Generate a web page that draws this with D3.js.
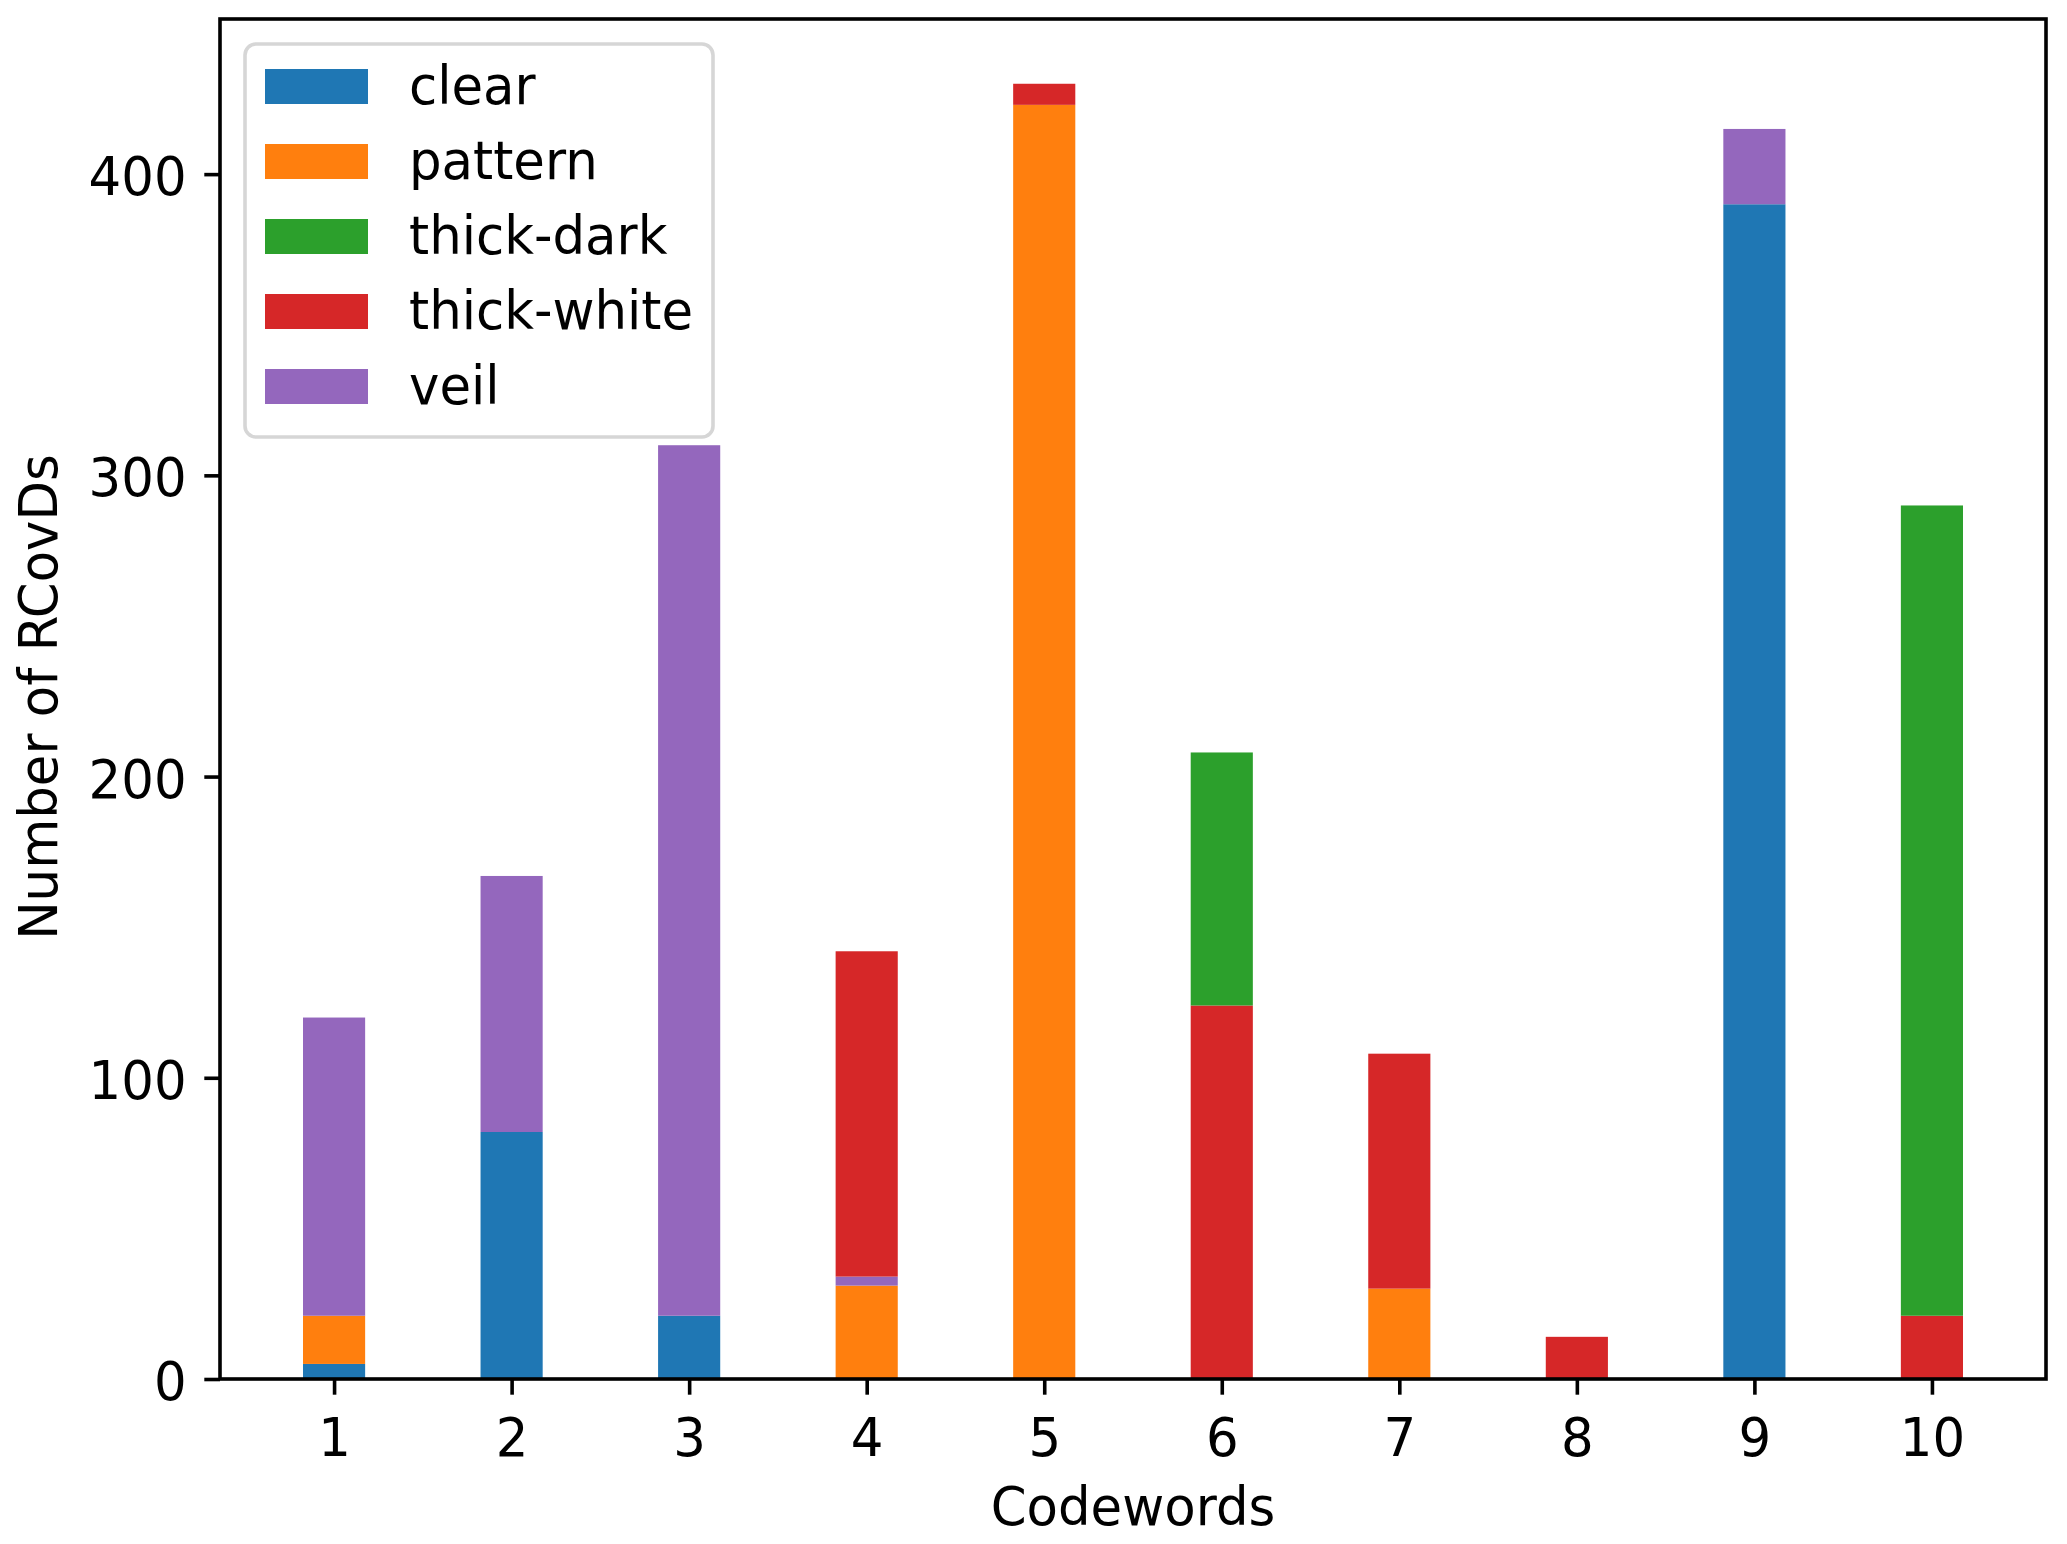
<!DOCTYPE html>
<html>
<head>
<meta charset="utf-8">
<script src="https://cdn.jsdelivr.net/npm/d3@7"></script>
<style>
  body { margin: 0; background: #fff; }
  svg { display: block; }
  text { font-family: "DejaVu Sans", sans-serif; fill: #000; }
</style>
</head>
<body>
<svg id="chart" width="2067" height="1544"></svg>
<script>
// data
const codewords = [1, 2, 3, 4, 5, 6, 7, 8, 9, 10]
const seriesNames = ['clear', 'pattern', 'thick-dark', 'thick-white', 'veil']
const seriesColors = ['#1f77b4', '#ff7f0e', '#2ca02c', '#d62728', '#9467bd']
const clear      = [5, 82, 21, 0, 0, 0, 0, 0, 390, 0]
const pattern    = [16, 0, 0, 31, 423, 0, 30, 0, 0, 0]
const thickDark  = [0, 0, 0, 0, 0, 84, 0, 0, 0, 269]
const thickWhite = [0, 0, 0, 108, 7, 124, 78, 14, 0, 21]
const veil       = [99, 85, 289, 3, 0, 0, 0, 0, 25, 0]
// bottom-to-top order of the segments inside each bar
const stackOrder = ['clear', 'pattern', 'veil', 'thick-white', 'thick-dark']
const yTicks = [0, 100, 200, 300, 400]

const seriesValues = {
  'clear': clear,
  'pattern': pattern,
  'thick-dark': thickDark,
  'thick-white': thickWhite,
  'veil': veil
}

const plotLeft = 220, plotRight = 2046, plotTop = 19, plotBottom = 1379
const fontPx = 53.8
const tickLen = 15.7
const lw = 3.6
const barWidth = 0.35
const squeeze = 0.955 // the reference text is a bit narrower than DejaVu at this size

const svg = d3.select('#chart')

// narrow a text horizontally around its own anchor x
function narrow(sel) {
  sel.each(function () {
    const t = d3.select(this)
    const ax = +t.attr('x') || 0
    const prev = t.attr('transform') || ''
    t.attr('transform', `${prev} translate(${ax},0) scale(${squeeze},1) translate(${-ax},0)`)
  })
}

const rows = codewords.map((c, i) => {
  const r = { codeword: c }
  seriesNames.forEach(n => { r[n] = seriesValues[n][i] })
  return r
})

const stacked = d3.stack().keys(stackOrder)(rows)
const maxTotal = d3.max(stacked[stacked.length - 1], d => d[1])

const pad = 0.05 * (9 + barWidth)
const x = d3.scaleLinear()
  .domain([1 - barWidth / 2 - pad, 10 + barWidth / 2 + pad])
  .range([plotLeft, plotRight])
const y = d3.scaleLinear()
  .domain([0, maxTotal * 1.05])
  .range([plotBottom, plotTop])

const color = d3.scaleOrdinal().domain(seriesNames).range(seriesColors)

// bars
const g = svg.append('g')
g.selectAll('g.layer')
  .data(stacked)
  .join('g')
  .attr('class', 'layer')
  .attr('fill', d => color(d.key))
  .selectAll('rect')
  .data(d => d.filter(s => s[1] - s[0] > 0))
  .join('rect')
  .attr('x', d => x(d.data.codeword - barWidth / 2))
  .attr('width', d => x(d.data.codeword + barWidth / 2) - x(d.data.codeword - barWidth / 2))
  .attr('y', d => y(d[1]))
  .attr('height', d => y(d[0]) - y(d[1]))

// axes
const xAxis = svg.append('g')
  .attr('transform', `translate(0,${plotBottom})`)
  .call(d3.axisBottom(x).tickValues(codewords).tickFormat(d3.format('d'))
    .tickSize(tickLen).tickPadding(tickLen))
const yAxis = svg.append('g')
  .attr('transform', `translate(${plotLeft},0)`)
  .call(d3.axisLeft(y).tickValues(yTicks).tickFormat(d3.format('d'))
    .tickSize(tickLen).tickPadding(tickLen + 2))

for (const ax of [xAxis, yAxis]) {
  ax.select('.domain').remove()
  ax.selectAll('.tick line').attr('stroke', '#000').attr('stroke-width', lw)
  ax.selectAll('.tick text').attr('font-size', fontPx).attr('font-family', '"DejaVu Sans", sans-serif')
    .call(narrow)
}
xAxis.selectAll('.tick text').attr('dy', '0.85em')
yAxis.selectAll('.tick text').attr('dy', '0.38em')

// frame
svg.append('rect')
  .attr('x', plotLeft).attr('y', plotTop)
  .attr('width', plotRight - plotLeft).attr('height', plotBottom - plotTop)
  .attr('fill', 'none').attr('stroke', '#000').attr('stroke-width', lw)

// axis labels
svg.append('text')
  .attr('x', (plotLeft + plotRight) / 2).attr('y', 1525)
  .attr('text-anchor', 'middle').attr('font-size', fontPx)
  .text('Codewords')
  .call(narrow)
svg.append('text')
  .attr('transform', `translate(57,${(plotTop + plotBottom) / 2 - 2}) rotate(-90) scale(${squeeze},1)`)
  .attr('text-anchor', 'middle').attr('font-size', fontPx)
  .text('Number of RCovDs')

// legend
const legend = svg.append('g')
legend.append('rect')
  .attr('x', 245).attr('y', 44).attr('width', 468).attr('height', 393)
  .attr('rx', 11).attr('fill', '#fff').attr('fill-opacity', 0.8)
  .attr('stroke', '#d6d6d6').attr('stroke-width', lw)
const items = legend.selectAll('g.item')
  .data(seriesNames)
  .join('g')
  .attr('class', 'item')
  .attr('transform', (d, i) => `translate(265,${69 + i * 75})`)
items.append('rect')
  .attr('width', 103).attr('height', 35)
  .attr('fill', d => color(d))
items.append('text')
  .attr('x', 144).attr('y', 35)
  .attr('font-size', fontPx)
  .text(d => d)
  .call(narrow)
</script>
</body>
</html>
